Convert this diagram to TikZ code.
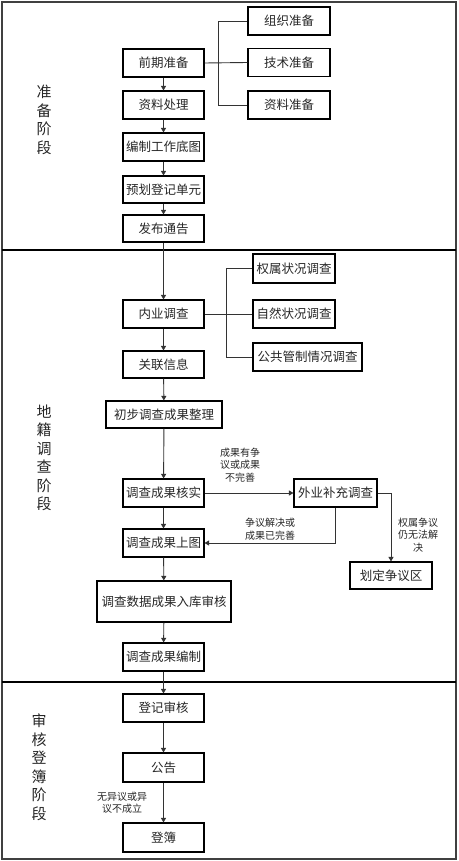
\documentclass[tikz,border=0pt]{standalone}
\usepackage{fontspec}
\setmainfont{Noto Sans CJK SC}
\usetikzlibrary{arrows.meta}
\begin{document}
\begin{tikzpicture}[x=1pt,y=-1pt,
  box/.style={draw=black, line width=1.1pt, inner sep=0pt, minimum width=81pt, minimum height=28pt,
    font=\fontsize{12.5}{14}\selectfont, text=black!85},
  conn/.style={draw=black!80, line width=0.9pt},
  arr/.style={conn, -{Triangle[width=5pt,length=4.5pt]}},
  stage/.style={align=center, font=\fontsize{15}{18.5}\selectfont, text=black!85, inner sep=0pt},
  note/.style={align=center, font=\fontsize{10}{12.5}\selectfont, text=black!85, inner sep=0pt},
  frame/.style={draw=black!75, line width=1.5pt}]
\useasboundingbox (0,0) rectangle (458,861);
% frame and dividers
\draw[frame] (2,2) rectangle (456,859);
\coordinate (d1l) at (2,250); \coordinate (d1r) at (456,250);
\coordinate (d2l) at (2,682); \coordinate (d2r) at (456,682);
\draw[frame, draw=black] (d1l) -- (d1r);
\draw[frame, draw=black] (d2l) -- (d2r);
% stage labels
\node[stage] (s1lab) at (44,120) {准\\备\\阶\\段};
\node[stage] (s2lab) at (44,458) {地\\籍\\调\\查\\阶\\段};
\node[stage] (s3lab) at (39,767.5) {审\\核\\登\\簿\\阶\\段};
% stage 1
\node[box] (qq) at (163.5,63) {前期准备};
\node[box] (zl) at (163.5,105) {资料处理};
\node[box] (bz) at (163.5,147) {编制工作底图};
\node[box, minimum height=27pt] (yh) at (163.5,189.5) {预划登记单元};
\node[box, minimum height=27pt] (fb) at (163.5,228.5) {发布通告};
\node[box, minimum width=82pt] (r1) at (289,21) {组织准备};
\node[box, minimum width=82pt] (r2) at (289,62.5) {技术准备};
\node[box, minimum width=82pt] (r3) at (289,105) {资料准备};
\draw[conn] (qq.east) -- (r2.west);
\draw[conn] (r1.west) -- ++(-29,0) |- (r3.west);
\draw[arr] (qq) -- (zl);
\draw[arr] (zl) -- (bz);
\draw[arr] (bz) -- (yh);
\draw[arr] (yh) -- (fb);
% stage 2
\node[box] (ny) at (163.5,314) {内业调查};
\node[box, minimum height=27pt] (gl) at (163.5,364.5) {关联信息};
\node[box, minimum width=116pt, minimum height=27pt] (cb) at (164,414.5) {初步调查成果整理};
\node[box] (hs) at (163.5,493) {调查成果核实};
\node[box, minimum width=83pt] (wy) at (335.5,493) {外业补充调查};
\node[box] (st) at (163.5,543) {调查成果上图};
\node[box, minimum width=82pt, minimum height=27pt] (hd) at (391,575.5) {划定争议区};
\node[box, minimum width=134pt, minimum height=41pt] (rk) at (164,601.5) {调查数据成果入库审核};
\node[box] (bj) at (163.5,657) {调查成果编制};
\node[box, minimum width=82pt, minimum height=29pt] (t1) at (294,268.5) {权属状况调查};
\node[box, minimum width=82pt] (t2) at (294,314) {自然状况调查};
\node[box, minimum width=109pt] (t3) at (307.5,357) {公共管制情况调查};
\draw[conn] (ny.east) -- (t2.west);
\draw[conn] (t1.west) -- ++(-26,0) |- (t3.west);
\draw[arr] (fb) -- (ny);
\draw[arr] (ny) -- (gl);
\draw[arr] (gl) -- (cb);
\draw[arr] (cb) -- (hs);
\draw[arr] (hs) -- (st);
\draw[arr] (st) -- (rk);
\draw[arr] (rk) -- (bj);
\draw[arr] (hs) -- (wy);
\draw[arr] (wy.south) |- (st.east);
\draw[arr] (wy.east) -| (hd.north);
\node[note] (n1) at (240,465) {成果有争\\议或成果\\不完善};
\node[note] (n2) at (270,529) {争议解决或\\成果已完善};
\node[note] (n3) at (418,535) {权属争议\\仍无法解\\决};
% stage 3
\node[box] (dj) at (163.5,708) {登记审核};
\node[box, minimum height=29pt] (gg) at (163.5,767.5) {公告};
\node[box, minimum height=29pt] (db) at (163.5,837.5) {登簿};
\draw[arr] (bj) -- (dj);
\draw[arr] (dj) -- (gg);
\draw[arr] (gg) -- (db);
\node[note] (n4) at (122,802.5) {无异议或异\\议不成立};
\end{tikzpicture}
\end{document}
